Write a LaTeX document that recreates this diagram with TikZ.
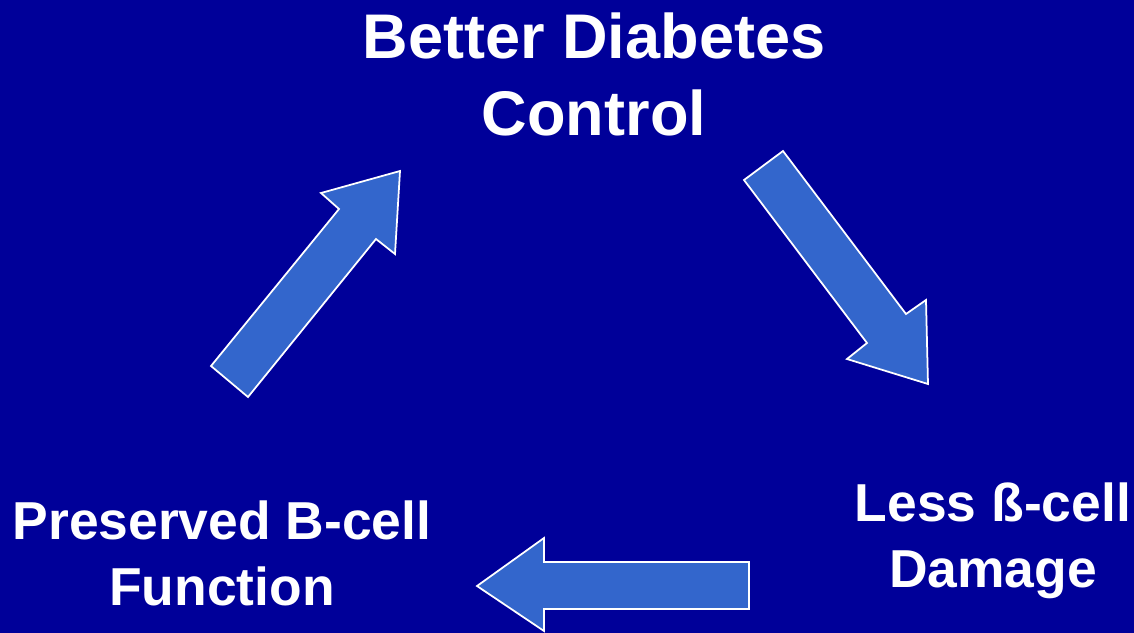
\documentclass[tikz,border=0pt]{standalone}
\usepackage{fontspec}
\setmainfont{Liberation Sans}
\definecolor{slidebg}{HTML}{000099}
\definecolor{arrowfill}{HTML}{3366CC}
\begin{document}
\begin{tikzpicture}[x=0.02cm, y=-0.02cm,
		every node/.style={inner sep=0pt, outer sep=0pt, text=white, align=center},
		bigtext/.style={anchor=north, font=\fontsize{35.9}{43.8}\selectfont\bfseries},
		smalltext/.style={anchor=north, font=\fontsize{30.4}{37.6}\selectfont\bfseries},
		blockarrow/.style={fill=arrowfill, draw=white, line width=1pt, line join=miter}]

		\fill[slidebg] (0,0) rectangle (1134,633);

		\node[bigtext] (control) at (594,13) {Better Diabetes\\Control};
		\node[smalltext] (damage) at (993,483) {Less ß-cell\\Damage};
		\node[smalltext] (function) at (222,501) {Preserved B-cell\\Function};

		% control -> damage
		\draw[blockarrow] (744,180) -- (783,151) -- (906,314) -- (926,300) -- (928,384) -- (847,359) -- (867,343) -- cycle;
		% damage -> function
		\draw[blockarrow] (749,562) -- (749,609) -- (544,609) -- (544,631) -- (477,586) -- (544,538) -- (544,562) -- cycle;
		% function -> control
		\draw[blockarrow] (211,366) -- (248,397) -- (376,239) -- (395,254) -- (400,171) -- (321,193) -- (339,209) -- cycle;

	\end{tikzpicture}
\end{document}
